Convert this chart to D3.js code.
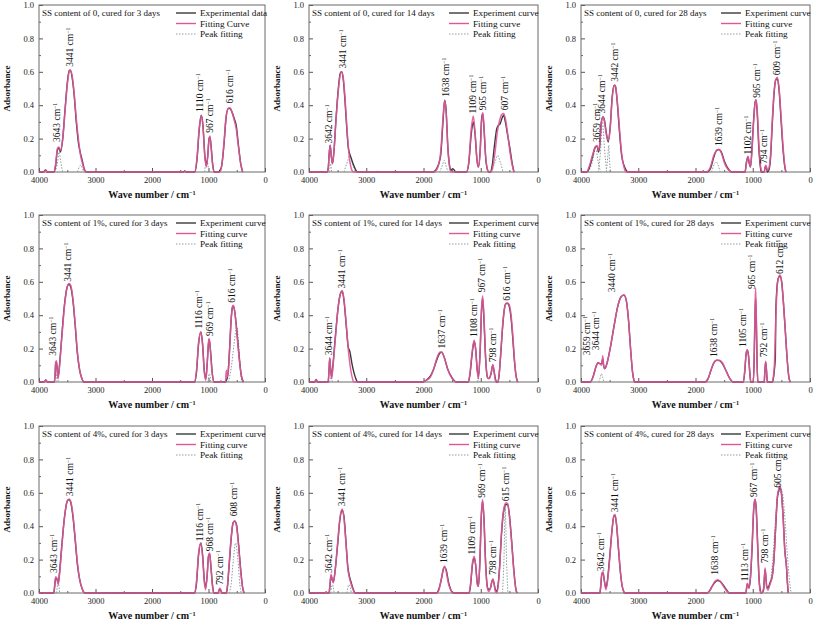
<!DOCTYPE html>
<html>
<head>
<meta charset="utf-8">
<script src="https://cdn.jsdelivr.net/npm/d3@7"></script>
<style>
  body { margin: 0; background: #fff; }
</style>
</head>
<body>
<div class="vis-ftir"></div>
<script>
// ---- panel texts ----
const titles = [
  "SS content of 0, cured for 3 days", "SS content of 0, cured for 14 days", "SS content of 0, cured for 28 days",
  "SS content of 1%, cured for 3 days", "SS content of 1%, cured for 14 days", "SS content of 1%, cured for 28 days",
  "SS content of 4%, cured for 3 days", "SS content of 4%, cured for 14 days", "SS content of 4%, cured for 28 days"
];
const legendFirst = ["Experimental data", "Fitting Curve", "Peak fitting"];
const legendOther = ["Experiment curve", "Fitting curve", "Peak fitting"];
const xTicks = [4000, 3000, 2000, 1000, 0];
const yTicks = [0, 0.2, 0.4, 0.6, 0.8, 1.0];

// ---- spectra: [wave number, absorbance] ----
const fit1 = [[4000,0],[3920,0],[3885,0.01],[3850,0],[3740,0],[3705,0.05],[3675,0.14],[3650,0.15],[3620,0.13],[3580,0.2],[3540,0.36],[3500,0.52],[3465,0.6],[3445,0.61],[3415,0.58],[3380,0.48],[3340,0.32],[3300,0.19],[3265,0.1],[3230,0.05],[3195,0.01],[3160,0],[1440,0],[1420,0.005],[1400,0],[1245,0],[1205,0.08],[1165,0.26],[1128,0.34],[1098,0.27],[1065,0.09],[1038,0.03],[1012,0.1],[990,0.2],[975,0.215],[955,0.15],[930,0.05],[900,0],[800,0],[765,0.04],[725,0.18],[690,0.33],[650,0.38],[620,0.385],[585,0.36],[545,0.31],[510,0.26],[470,0.15],[430,0.05],[395,0]];
const exp1 = [[4000,0],[3920,0],[3885,0.012],[3850,0],[3740,0],[3705,0.04],[3675,0.13],[3650,0.145],[3620,0.12],[3580,0.2],[3540,0.37],[3500,0.53],[3465,0.61],[3445,0.61],[3415,0.57],[3380,0.47],[3340,0.3],[3300,0.17],[3265,0.11],[3235,0.07],[3200,0.02],[3160,0],[1445,0],[1420,0.006],[1395,0],[1245,0],[1205,0.07],[1165,0.25],[1128,0.34],[1098,0.28],[1065,0.1],[1038,0.04],[1015,0.09],[990,0.2],[975,0.21],[955,0.16],[930,0.06],[900,0],[820,0],[800,0.01],[780,0.02],[765,0.04],[725,0.17],[690,0.32],[650,0.38],[620,0.38],[585,0.36],[545,0.32],[510,0.28],[470,0.16],[430,0.05],[395,0]];
const comps1 = [[[3720,0],[3670,0.06],[3645,0.12],[3615,0.06],[3580,0]],[[3320,0],[3265,0.04],[3210,0]],[[1070,0],[1030,0.07],[995,0]]];

const fit2 = [[4000,0],[3680,0],[3662,0.03],[3645,0.12],[3630,0.16],[3612,0.1],[3590,0.05],[3565,0.12],[3530,0.3],[3490,0.48],[3455,0.58],[3430,0.6],[3400,0.56],[3370,0.44],[3340,0.28],[3310,0.14],[3280,0.05],[3250,0.01],[3220,0],[1820,0],[1760,0.02],[1700,0.12],[1660,0.32],[1630,0.43],[1605,0.36],[1575,0.15],[1545,0.03],[1520,0],[1250,0],[1210,0.06],[1165,0.26],[1130,0.335],[1100,0.24],[1065,0.07],[1040,0.03],[1010,0.12],[985,0.3],[965,0.355],[945,0.28],[915,0.1],[880,0.01],[860,0],[830,0],[790,0.03],[750,0.12],[710,0.24],[670,0.31],[630,0.345],[600,0.35],[570,0.32],[530,0.23],[490,0.12],[450,0.04],[420,0]];
const exp2 = [[4000,0],[3680,0],[3662,0.03],[3645,0.12],[3630,0.16],[3612,0.1],[3590,0.05],[3565,0.12],[3530,0.31],[3490,0.49],[3455,0.59],[3430,0.6],[3400,0.55],[3370,0.42],[3340,0.26],[3315,0.15],[3290,0.11],[3260,0.08],[3220,0.04],[3180,0.01],[3160,0],[2810,0],[2800,0.004],[2790,0],[1830,0],[1770,0.02],[1700,0.1],[1660,0.3],[1630,0.43],[1605,0.37],[1575,0.15],[1545,0.04],[1520,0.01],[1490,0.02],[1460,0.01],[1440,0],[1250,0],[1210,0.05],[1165,0.23],[1130,0.3],[1100,0.23],[1065,0.07],[1040,0.03],[1010,0.13],[985,0.32],[965,0.35],[945,0.27],[915,0.09],[880,0.01],[860,0],[835,0],[800,0.04],[760,0.16],[720,0.26],[690,0.28],[660,0.29],[630,0.32],[600,0.34],[570,0.3],[530,0.22],[490,0.14],[450,0.05],[420,0]];
const comps2 = [[[3640,0],[3625,0.05],[3605,0]],[[3390,0],[3330,0.06],[3285,0.1],[3240,0.05],[3190,0]],[[1720,0],[1670,0.04],[1640,0.07],[1610,0.04],[1570,0]],[[810,0],[750,0.06],[705,0.1],[660,0.06],[610,0]]];

const fit3 = [[4000,0],[3900,0],[3860,0.03],[3800,0.1],[3750,0.15],[3720,0.158],[3695,0.13],[3675,0.16],[3645,0.29],[3615,0.333],[3590,0.3],[3555,0.22],[3520,0.19],[3490,0.26],[3455,0.44],[3420,0.515],[3400,0.52],[3370,0.44],[3330,0.27],[3290,0.11],[3250,0.03],[3210,0],[1880,0],[1865,0.005],[1850,0],[1800,0],[1740,0.03],[1680,0.1],[1630,0.13],[1590,0.134],[1550,0.115],[1490,0.05],[1420,0.01],[1370,0],[1135,0],[1110,0.05],[1085,0.094],[1060,0.06],[1040,0.03],[1015,0.12],[985,0.3],[955,0.42],[940,0.433],[920,0.36],[895,0.18],[870,0.05],[850,0.01],[830,0],[800,0],[785,0.03],[772,0.04],[760,0.03],[745,0.01],[720,0.02],[690,0.1],[660,0.3],[630,0.47],[600,0.55],[570,0.567],[540,0.5],[505,0.33],[470,0.15],[440,0.04],[420,0]];
const exp3 = [[4000,0],[3900,0],[3860,0.02],[3800,0.09],[3750,0.15],[3720,0.155],[3695,0.12],[3675,0.15],[3645,0.3],[3615,0.33],[3590,0.31],[3560,0.24],[3525,0.18],[3490,0.27],[3455,0.45],[3420,0.52],[3400,0.515],[3370,0.43],[3330,0.25],[3290,0.1],[3250,0.04],[3210,0.01],[3180,0],[1880,0],[1865,0.006],[1850,0],[1800,0],[1740,0.02],[1680,0.09],[1630,0.13],[1590,0.135],[1550,0.12],[1490,0.06],[1420,0.015],[1370,0],[1135,0],[1110,0.06],[1085,0.09],[1060,0.05],[1040,0.03],[1015,0.13],[985,0.31],[955,0.43],[940,0.43],[920,0.34],[895,0.15],[870,0.04],[850,0],[800,0],[785,0.025],[772,0.035],[760,0.025],[745,0],[720,0.01],[690,0.08],[660,0.28],[630,0.46],[600,0.55],[570,0.56],[540,0.49],[505,0.31],[470,0.13],[440,0.03],[420,0]];
const comps3 = [[[3880,0],[3810,0.05],[3745,0.14],[3700,0.06],[3660,0]],[[3700,0],[3660,0.12],[3625,0.3],[3590,0.14],[3550,0]],[[3560,0],[3535,0.08],[3515,0.16],[3500,0.06],[3480,0]],[[1720,0],[1640,0.06],[1570,0]]];

const fit4 = [[4000,0],[3910,0],[3880,0.01],[3850,0],[3730,0],[3715,0.05],[3705,0.12],[3690,0.127],[3675,0.06],[3662,0.02],[3640,0.08],[3600,0.25],[3550,0.45],[3500,0.57],[3470,0.59],[3440,0.58],[3400,0.5],[3360,0.35],[3320,0.18],[3280,0.07],[3240,0.02],[3210,0],[1250,0],[1215,0.06],[1175,0.24],[1135,0.3],[1105,0.22],[1075,0.06],[1048,0.01],[1025,0.1],[1000,0.24],[987,0.26],[965,0.18],[935,0.05],[900,0],[800,0],[790,0.005],[770,0],[700,0],[690,0.05],[680,0.07],[670,0.03],[650,0.06],[625,0.2],[600,0.37],[575,0.45],[560,0.46],[535,0.42],[500,0.3],[460,0.15],[420,0.04],[380,0]];
const exp4 = [[4000,0],[3910,0],[3880,0.012],[3850,0],[3730,0],[3715,0.04],[3705,0.11],[3690,0.12],[3675,0.06],[3662,0.03],[3640,0.09],[3600,0.26],[3550,0.46],[3500,0.57],[3470,0.585],[3440,0.57],[3400,0.49],[3360,0.34],[3320,0.17],[3280,0.07],[3240,0.02],[3210,0],[1250,0],[1215,0.05],[1175,0.23],[1135,0.3],[1105,0.23],[1075,0.07],[1048,0.02],[1025,0.1],[1000,0.23],[987,0.255],[965,0.19],[935,0.06],[900,0],[800,0],[780,0.005],[760,0],[700,0],[685,0.01],[670,0.02],[650,0.07],[625,0.21],[600,0.37],[575,0.45],[560,0.455],[535,0.42],[500,0.31],[460,0.16],[420,0.04],[380,0]];
const comps4 = [[[3700,0],[3680,0.05],[3660,0]],[[1010,0],[985,0.05],[960,0]],[[650,0],[600,0.08],[550,0.22],[500,0.33],[460,0.2],[430,0.05],[410,0]]];

const fit5 = [[4000,0],[3900,0],[3875,0.015],[3850,0],[3665,0],[3650,0.08],[3638,0.145],[3625,0.09],[3605,0.02],[3585,0.08],[3540,0.26],[3490,0.45],[3450,0.53],[3420,0.547],[3390,0.5],[3350,0.35],[3310,0.18],[3270,0.07],[3240,0.02],[3220,0],[2010,0],[1950,0.01],[1880,0.03],[1820,0.08],[1760,0.15],[1710,0.18],[1680,0.178],[1640,0.15],[1580,0.08],[1500,0.02],[1420,0],[1220,0],[1190,0.05],[1150,0.18],[1115,0.25],[1090,0.2],[1060,0.06],[1040,0.02],[1010,0.2],[985,0.45],[967,0.517],[945,0.4],[915,0.15],[885,0.03],[860,0.02],[820,0.05],[790,0.105],[770,0.07],[745,0.01],[725,0],[700,0],[680,0.04],[650,0.18],[620,0.33],[590,0.43],[560,0.47],[530,0.473],[500,0.46],[470,0.4],[440,0.28],[410,0.13],[380,0.03],[355,0]];
const exp5 = [[4000,0],[3900,0],[3875,0.016],[3850,0],[3665,0],[3650,0.07],[3638,0.14],[3625,0.09],[3605,0.03],[3585,0.09],[3540,0.27],[3490,0.45],[3450,0.53],[3420,0.545],[3390,0.49],[3350,0.34],[3315,0.21],[3285,0.18],[3250,0.11],[3210,0.05],[3170,0.01],[3150,0],[2010,0],[1950,0.012],[1880,0.035],[1820,0.08],[1760,0.14],[1710,0.175],[1680,0.178],[1640,0.15],[1580,0.08],[1500,0.025],[1420,0],[1220,0],[1190,0.04],[1150,0.17],[1115,0.245],[1090,0.2],[1060,0.07],[1040,0.03],[1010,0.19],[985,0.44],[967,0.5],[945,0.38],[915,0.14],[885,0.03],[860,0.02],[820,0.05],[790,0.1],[770,0.07],[745,0.02],[725,0],[700,0],[680,0.04],[650,0.17],[620,0.32],[590,0.43],[560,0.47],[530,0.47],[500,0.45],[470,0.38],[440,0.26],[410,0.12],[380,0.03],[355,0]];
const comps5 = [[[3640,0],[3615,0.03],[3590,0]],[[1060,0],[1045,0.03],[1030,0]]];

const fit6 = [[4000,0],[3840,0],[3790,0.03],[3740,0.09],[3700,0.117],[3670,0.11],[3640,0.1],[3620,0.157],[3605,0.1],[3585,0.08],[3540,0.12],[3480,0.22],[3420,0.34],[3360,0.45],[3300,0.51],[3250,0.523],[3210,0.49],[3170,0.37],[3130,0.18],[3100,0.06],[3075,0.01],[3060,0],[1830,0],[1780,0.02],[1730,0.07],[1680,0.115],[1630,0.13],[1580,0.13],[1530,0.115],[1470,0.07],[1400,0.02],[1340,0],[1165,0],[1140,0.07],[1115,0.17],[1095,0.193],[1075,0.16],[1050,0.05],[1035,0],[990,0],[975,0.15],[960,0.45],[950,0.563],[938,0.4],[925,0.12],[910,0],[800,0],[790,0.06],[775,0.125],[760,0.07],[745,0],[660,0],[640,0.03],[620,0.12],[600,0.35],[580,0.53],[555,0.62],[525,0.64],[495,0.6],[465,0.48],[430,0.3],[395,0.12],[365,0.02],[340,0]];
const exp6 = [[4000,0],[3840,0],[3790,0.03],[3740,0.09],[3700,0.115],[3670,0.11],[3640,0.11],[3620,0.14],[3605,0.1],[3585,0.08],[3540,0.12],[3480,0.22],[3420,0.34],[3360,0.45],[3300,0.51],[3250,0.52],[3210,0.49],[3170,0.37],[3130,0.18],[3100,0.06],[3075,0.01],[3060,0],[1830,0],[1780,0.02],[1730,0.07],[1680,0.115],[1630,0.13],[1580,0.128],[1530,0.11],[1470,0.07],[1400,0.02],[1340,0],[1165,0],[1140,0.06],[1115,0.17],[1095,0.19],[1075,0.16],[1050,0.05],[1035,0],[990,0],[975,0.14],[960,0.4],[950,0.5],[938,0.38],[925,0.12],[910,0],[800,0],[790,0.05],[775,0.12],[760,0.07],[745,0],[660,0],[640,0.02],[620,0.08],[605,0.15],[598,0.4],[580,0.55],[555,0.62],[525,0.635],[495,0.6],[465,0.48],[430,0.3],[395,0.12],[365,0.02],[340,0]];
const comps6 = [[[3690,0],[3665,0.025],[3640,0.05],[3620,0.025],[3600,0]]];

const fit7 = [[4000,0],[3740,0],[3725,0.04],[3705,0.097],[3685,0.09],[3660,0.05],[3640,0.1],[3600,0.26],[3550,0.45],[3500,0.55],[3468,0.563],[3440,0.55],[3400,0.47],[3360,0.33],[3320,0.18],[3280,0.08],[3230,0.02],[3190,0],[1250,0],[1215,0.06],[1175,0.24],[1135,0.3],[1105,0.22],[1075,0.07],[1052,0.02],[1025,0.1],[1000,0.22],[980,0.24],[960,0.17],[930,0.04],[905,0],[830,0],[815,0.02],[798,0.028],[780,0.015],[760,0],[690,0],[670,0.03],[640,0.15],[600,0.33],[565,0.42],[535,0.433],[505,0.4],[470,0.29],[430,0.13],[395,0.03],[370,0]];
const exp7 = [[4000,0],[3740,0],[3725,0.03],[3705,0.09],[3685,0.085],[3660,0.06],[3640,0.11],[3600,0.27],[3550,0.45],[3500,0.55],[3468,0.56],[3440,0.545],[3400,0.46],[3360,0.32],[3320,0.17],[3280,0.08],[3230,0.02],[3190,0],[1250,0],[1215,0.05],[1175,0.23],[1135,0.3],[1105,0.23],[1075,0.08],[1052,0.03],[1025,0.1],[1000,0.22],[980,0.235],[960,0.17],[930,0.05],[905,0],[830,0],[815,0.015],[798,0.025],[780,0.012],[760,0],[690,0],[670,0.02],[640,0.14],[600,0.32],[565,0.42],[535,0.43],[505,0.41],[470,0.3],[430,0.14],[395,0.03],[370,0]];
const comps7 = [[[3690,0],[3660,0.06],[3635,0]],[[640,0],[600,0.05],[560,0.2],[520,0.3],[480,0.2],[445,0.05],[420,0]]];

const fit8 = [[4000,0],[3720,0],[3700,0.005],[3680,0],[3650,0],[3635,0.05],[3615,0.113],[3595,0.08],[3575,0.06],[3545,0.13],[3500,0.3],[3460,0.45],[3420,0.503],[3390,0.45],[3355,0.3],[3320,0.14],[3300,0.1],[3270,0.06],[3230,0.02],[3195,0],[1770,0],[1730,0.02],[1690,0.08],[1650,0.15],[1630,0.16],[1605,0.13],[1560,0.05],[1510,0.01],[1475,0],[1205,0],[1180,0.05],[1145,0.18],[1114,0.22],[1090,0.17],[1060,0.05],[1040,0.04],[1015,0.2],[990,0.47],[968,0.56],[945,0.45],[915,0.17],[885,0.03],[860,0.01],[830,0.03],[805,0.07],[787,0.085],[770,0.06],[745,0.01],[720,0],[700,0.03],[670,0.15],[640,0.35],[600,0.5],[560,0.54],[530,0.535],[500,0.46],[460,0.3],[420,0.12],[385,0.02],[365,0]];
const exp8 = [[4000,0],[3720,0],[3700,0.006],[3680,0],[3650,0],[3635,0.04],[3615,0.105],[3595,0.08],[3575,0.065],[3545,0.13],[3500,0.29],[3460,0.44],[3420,0.495],[3390,0.46],[3355,0.31],[3320,0.15],[3300,0.11],[3270,0.07],[3230,0.025],[3195,0],[1770,0],[1730,0.025],[1690,0.08],[1650,0.145],[1630,0.155],[1605,0.14],[1560,0.06],[1510,0.01],[1475,0],[1205,0],[1180,0.04],[1145,0.17],[1114,0.21],[1090,0.17],[1060,0.06],[1040,0.04],[1015,0.19],[990,0.46],[968,0.55],[945,0.45],[915,0.18],[885,0.04],[860,0.02],[830,0.03],[805,0.07],[787,0.08],[770,0.06],[745,0.02],[720,0.01],[700,0.04],[670,0.16],[640,0.34],[600,0.49],[560,0.53],[530,0.53],[500,0.47],[460,0.31],[420,0.13],[385,0.02],[365,0]];
const comps8 = [[[3620,0],[3590,0.05],[3560,0]],[[3340,0],[3300,0.05],[3260,0]],[[620,0],[595,0.2],[572,0.52],[550,0.2],[525,0]]];

const fit9 = [[4000,0],[3670,0],[3655,0.05],[3635,0.12],[3615,0.127],[3595,0.08],[3565,0.02],[3540,0.06],[3500,0.2],[3460,0.37],[3425,0.465],[3405,0.47],[3380,0.42],[3345,0.27],[3310,0.12],[3280,0.04],[3255,0.01],[3240,0],[1800,0],[1760,0.01],[1710,0.04],[1660,0.07],[1610,0.08],[1570,0.07],[1510,0.04],[1450,0.01],[1410,0],[1120,0],[1105,0.04],[1093,0.058],[1080,0.04],[1065,0.03],[1040,0.1],[1010,0.3],[985,0.5],[960,0.563],[940,0.5],[915,0.28],[890,0.08],[870,0.01],[850,0],[810,0.03],[795,0.1],[784,0.15],[772,0.1],[755,0.03],[735,0.02],[700,0.05],[660,0.1],[630,0.2],[600,0.4],[570,0.58],[540,0.63],[525,0.64],[500,0.6],[470,0.45],[440,0.25],[410,0.16],[395,0.08],[380,0]];
const exp9 = [[4000,0],[3670,0],[3655,0.04],[3635,0.115],[3615,0.12],[3595,0.08],[3565,0.03],[3540,0.07],[3500,0.21],[3460,0.37],[3425,0.46],[3405,0.465],[3380,0.41],[3345,0.26],[3310,0.12],[3280,0.04],[3255,0.01],[3240,0],[1800,0],[1760,0.01],[1710,0.04],[1660,0.065],[1610,0.075],[1570,0.07],[1510,0.045],[1450,0.015],[1410,0],[1120,0],[1105,0.035],[1093,0.055],[1080,0.04],[1065,0.03],[1040,0.09],[1010,0.28],[985,0.49],[960,0.56],[940,0.51],[915,0.3],[890,0.09],[870,0.02],[850,0],[810,0.02],[795,0.1],[784,0.14],[772,0.1],[755,0.04],[735,0.03],[700,0.06],[660,0.1],[630,0.2],[600,0.39],[570,0.57],[540,0.62],[525,0.63],[500,0.6],[470,0.46],[440,0.26],[410,0.15],[395,0.06],[380,0]];
const comps9 = [[[760,0],[700,0.05],[650,0.2],[600,0.45],[550,0.6],[500,0.62],[450,0.5],[400,0.25],[360,0.08],[330,0]]];

// ---- peak labels: [wave number, absorbance at label foot, text] ----
const labels1 = [[3692,0.18,"3643"],[3456,0.63,"3441"],[1160,0.36,"1110"],[975,0.235,"967"],[620,0.41,"616"]];
const labels2 = [[3662,0.17,"3642"],[3411,0.62,"3441"],[1609,0.45,"1638"],[1137,0.35,"1109"],[968,0.37,"965"],[589,0.37,"607"]];
const labels3 = [[3731,0.18,"3659"],[3632,0.35,"3644"],[3410,0.54,"3442"],[1589,0.155,"1639"],[1093,0.105,"1102"],[935,0.445,"965"],[810,0.05,"794"],[579,0.58,"609"]];
const labels4 = [[3752,0.157,"3643"],[3486,0.6,"3441"],[1182,0.32,"1116"],[987,0.276,"969"],[591,0.475,"616"]];
const labels5 = [[3662,0.16,"3644"],[3429,0.56,"3441"],[1679,0.2,"1637"],[1125,0.27,"1108"],[980,0.537,"967"],[787,0.12,"798"],[542,0.487,"616"]];
const labels6 = [[3895,0.16,"3659"],[3749,0.19,"3644"],[3469,0.537,"3440"],[1677,0.15,"1638"],[1180,0.21,"1105"],[1023,0.557,"965"],[801,0.15,"792"],[538,0.646,"612"]];
const labels7 = [[3734,0.12,"3643"],[3456,0.58,"3441"],[1152,0.31,"1116"],[975,0.25,"968"],[798,0.05,"792"],[561,0.46,"608"]];
const labels8 = [[3650,0.12,"3642"],[3429,0.52,"3441"],[1650,0.18,"1639"],[1154,0.23,"1109"],[980,0.57,"969"],[787,0.11,"798"],[571,0.55,"615"]];
const labels9 = [[3661,0.13,"3642"],[3410,0.483,"3441"],[1659,0.11,"1638"],[1134,0.07,"1113"],[976,0.575,"967"],[784,0.18,"798"],[568,0.63,"605"]];

const panels = [
  { fit: fit1, exp: exp1, comps: comps1, labels: labels1 },
  { fit: fit2, exp: exp2, comps: comps2, labels: labels2 },
  { fit: fit3, exp: exp3, comps: comps3, labels: labels3 },
  { fit: fit4, exp: exp4, comps: comps4, labels: labels4 },
  { fit: fit5, exp: exp5, comps: comps5, labels: labels5 },
  { fit: fit6, exp: exp6, comps: comps6, labels: labels6 },
  { fit: fit7, exp: exp7, comps: comps7, labels: labels7 },
  { fit: fit8, exp: exp8, comps: comps8, labels: labels8 },
  { fit: fit9, exp: exp9, comps: comps9, labels: labels9 }
];

const expColor = "#383838";
const fitColor = "#e2559a";
const compColor = "#8f9e9e";

// layout of the 3x3 grid
const colX = [39, 309, 581];
const colW = [226, 229, 229];
const rowY = [5, 215, 426];
const plotH = 167;

const svg = d3.select(".vis-ftir")
  .append("svg")
  .attr("width", 816)
  .attr("height", 623)
  .style("font-family", "'Liberation Serif', 'Times New Roman', serif");

// text with a superscript "-1"
const addCm = (sel, pre) => {
  sel.append("tspan").text(pre + "cm");
  sel.append("tspan").attr("baseline-shift", "super").attr("font-size", "0.62em").text("\u22121");
};

panels.forEach((p, i) => {
  const r = Math.floor(i / 3), c = i % 3;
  const w = colW[c];
  const g = svg.append("g").attr("transform", `translate(${colX[c]},${rowY[r]})`);

  const x = d3.scaleLinear().domain([4000, 0]).range([0, w]);
  const y = d3.scaleLinear().domain([0, 1]).range([plotH, 0]);

  // minor ticks
  g.append("g")
    .attr("transform", `translate(0,${plotH})`)
    .call(d3.axisBottom(x).tickValues(d3.range(500, 4000, 1000)).tickSize(-2).tickFormat(""))
    .call(a => a.select(".domain").remove())
    .selectAll("line").attr("stroke", "#666");
  g.append("g")
    .call(d3.axisLeft(y).tickValues(d3.range(0.1, 1, 0.2)).tickSize(-2).tickFormat(""))
    .call(a => a.select(".domain").remove())
    .selectAll("line").attr("stroke", "#666");

  // major axes
  const xa = g.append("g")
    .attr("transform", `translate(0,${plotH})`)
    .call(d3.axisBottom(x).tickValues(xTicks).tickSize(-4).tickPadding(5).tickFormat(d3.format("d")));
  const ya = g.append("g")
    .call(d3.axisLeft(y).tickValues(yTicks).tickSize(-4).tickPadding(5).tickFormat(d3.format(".1f")));
  [xa, ya].forEach(a => {
    a.select(".domain").remove();
    a.selectAll("line").attr("stroke", "#555");
    a.selectAll("text").attr("font-size", 8.5).attr("fill", "#222")
      .style("font-family", "'Liberation Serif', serif");
  });

  // frame
  g.append("rect")
    .attr("width", w).attr("height", plotH)
    .attr("fill", "none").attr("stroke", "#6a6a6a").attr("stroke-width", 1);

  const line = d3.line()
    .x(d => x(d[0]))
    .y(d => y(d[1]))
    .curve(d3.curveMonotoneX);

  // peak components (dotted)
  p.comps.forEach(cp => {
    g.append("path").datum(cp)
      .attr("fill", "none").attr("stroke", compColor)
      .attr("stroke-width", 1).attr("stroke-dasharray", "1.5,1.5")
      .attr("d", line);
  });
  // experimental curve
  g.append("path").datum(p.exp)
    .attr("fill", "none").attr("stroke", expColor)
    .attr("stroke-width", 1.4)
    .attr("d", line);
  // fitting curve
  g.append("path").datum(p.fit)
    .attr("fill", "none").attr("stroke", fitColor)
    .attr("stroke-width", 1.5).attr("stroke-opacity", 0.9)
    .attr("d", line);

  // peak labels
  p.labels.forEach(l => {
    const t = g.append("text")
      .attr("transform", `translate(${x(l[0])},${y(l[1])}) rotate(-90)`)
      .attr("dy", "0.35em")
      .attr("font-size", 9.5)
      .attr("fill", "#111");
    addCm(t, l[2] + " ");
  });

  // title
  g.append("text")
    .attr("x", 3).attr("y", 11)
    .attr("font-size", 9).attr("fill", "#111")
    .text(titles[i]);

  // legend
  const names = i === 0 ? legendFirst : legendOther;
  const lg = g.append("g").attr("transform", `translate(${w - 89},0)`);
  names.forEach((n, k) => {
    const yy = 8 + k * 10.5;
    lg.append("line")
      .attr("x1", 0).attr("x2", 20).attr("y1", yy).attr("y2", yy)
      .attr("stroke", k === 0 ? expColor : k === 1 ? fitColor : compColor)
      .attr("stroke-width", k === 2 ? 1 : 1.4)
      .attr("stroke-dasharray", k === 2 ? "1.5,1.5" : null);
    lg.append("text")
      .attr("x", 24).attr("y", yy + 3)
      .attr("font-size", 9.2).attr("fill", "#111")
      .text(n);
  });

  // axis titles
  const xt = g.append("text")
    .attr("x", w / 2).attr("y", plotH + 26)
    .attr("text-anchor", "middle")
    .attr("font-size", 10).attr("font-weight", "bold").attr("fill", "#111");
  addCm(xt, "Wave number / ");

  g.append("text")
    .attr("transform", `translate(-29,${plotH / 2}) rotate(-90)`)
    .attr("text-anchor", "middle")
    .attr("font-size", 9).attr("font-weight", "bold").attr("fill", "#111")
    .text("Adsorbance");
});
</script>
</body>
</html>
